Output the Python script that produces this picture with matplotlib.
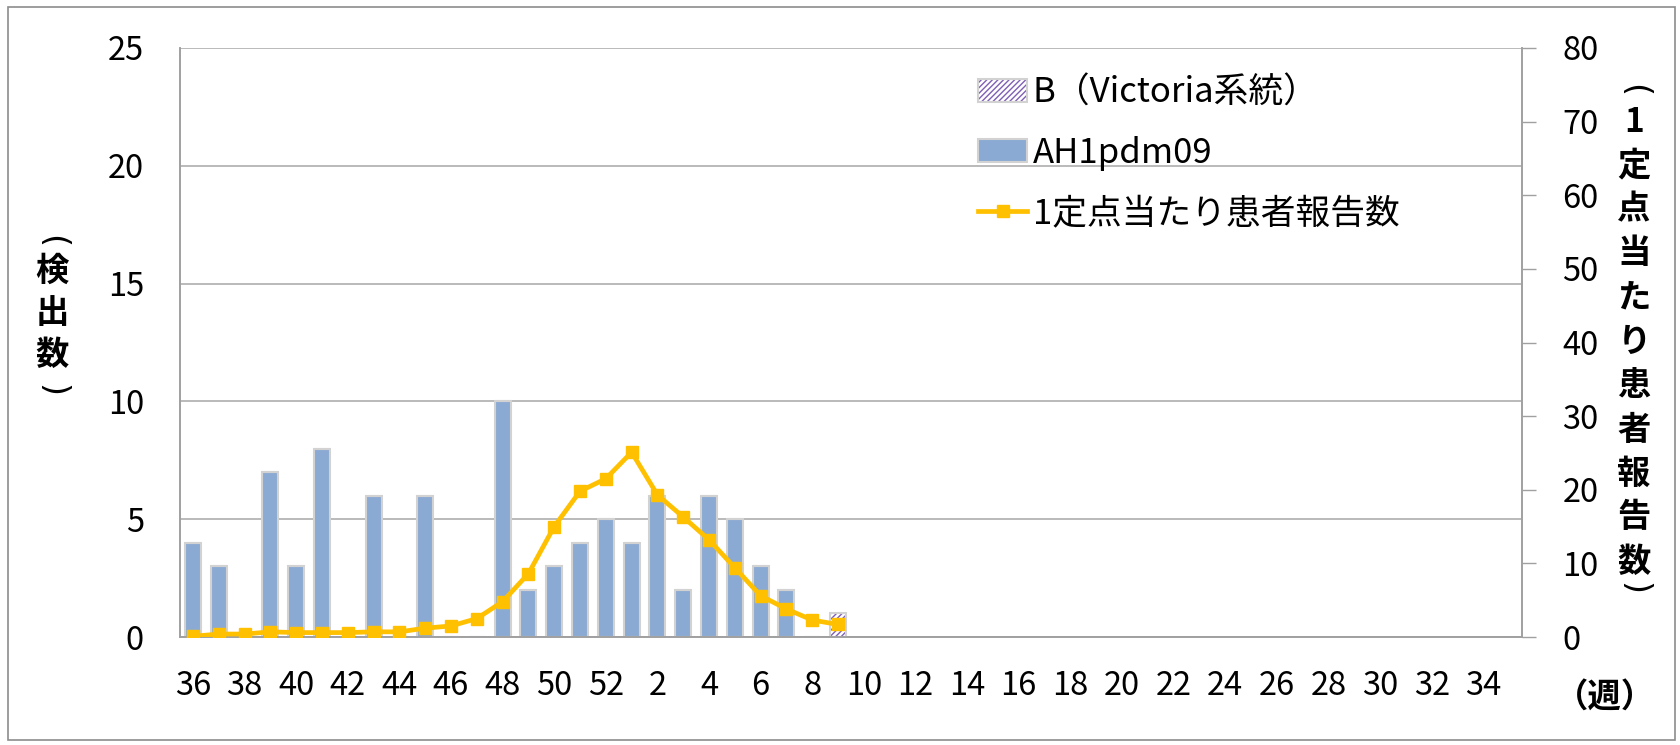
import matplotlib
matplotlib.use("Agg")
import matplotlib.pyplot as plt
from matplotlib.patches import Rectangle, Patch
from matplotlib.lines import Line2D
from matplotlib.legend_handler import HandlerTuple
import numpy as np

plt.rcParams['font.family'] = ['Noto Sans CJK JP', 'DejaVu Sans']

weeks = [36, 37, 38, 39, 40, 41, 42, 43, 44, 45, 46, 47, 48, 49, 50, 51, 52] + list(range(1, 36))
ah1pdm09 = [4, 3, 0, 7, 3, 8, 0, 6, 0, 6, 0, 0, 10, 2, 3, 4, 5, 4, 6, 2, 6, 5, 3, 2, 0, 0]
victoria = [0, 0, 0, 0, 0, 0, 0, 0, 0, 0, 0, 0, 0, 0, 0, 0, 0, 0, 0, 0, 0, 0, 0, 0, 0, 1]
per_site = [0.1, 0.4, 0.4, 0.7, 0.6, 0.6, 0.6, 0.7, 0.7, 1.2, 1.5, 2.5, 4.8, 8.6, 15.0,
            19.8, 21.5, 25.1, 19.3, 16.3, 13.2, 9.4, 5.6, 3.8, 2.3, 1.7]
tick_labels = [str(w) for w in weeks[::2]]

BLUE = '#8BAAD3'
EDGE = '#d2d2d2'
PURPLE = '#7F5FB5'
GOLD = '#FFC000'
FS = 23.5

W, H = 1681, 745
fig = plt.figure(figsize=(W / 100, H / 100), dpi=100)
fig.patches.append(Rectangle((8 / W, 1 - 740 / H), (1675 - 8) / W, (740 - 7) / H,
                             transform=fig.transFigure, fill=False, edgecolor='#8c8c8c',
                             linewidth=1.2))

left, right, top, bottom = 180, 1522, 48, 637
ax = fig.add_axes([left / W, 1 - bottom / H, (right - left) / W, (bottom - top) / H])
ax2 = ax.twinx()

n = len(weeks)
x = np.arange(len(ah1pdm09))
ax.set_axisbelow(True)
ax.bar(x, ah1pdm09, width=0.62, color=BLUE, edgecolor=EDGE, linewidth=1.5, zorder=2)
ax.bar(x, victoria, bottom=ah1pdm09, width=0.62, color='white', edgecolor=PURPLE,
       hatch='//////', linewidth=0, zorder=2)
ax.bar(x, victoria, bottom=ah1pdm09, width=0.62, fill=False, edgecolor=EDGE,
       linewidth=1.5, zorder=2)

ax2.plot(np.arange(len(per_site)), per_site, color=GOLD, linewidth=3.4, marker='s',
         markersize=8.5, zorder=3)

ax.set_xlim(-0.5, n - 0.5)
ax.set_ylim(0, 25)
ax2.set_ylim(0, 80)
ax.set_yticks(range(0, 26, 5))
ax2.set_yticks(range(0, 81, 10))
ax.set_xticks(np.arange(0, n, 2))
ax.set_xticklabels(tick_labels)

ax.grid(axis='y', color='#b4b4b4', linewidth=1.3)
ax.grid(axis='x', visible=False)
ax.spines['top'].set_visible(False)
ax2.spines['top'].set_visible(False)
for a in (ax, ax2):
    for sp in ['left', 'right', 'bottom']:
        a.spines[sp].set_color('#a0a0a0')
        a.spines[sp].set_linewidth(1.2)

ax.tick_params(axis='y', length=0, pad=26, labelsize=FS)
ax.tick_params(axis='x', length=0, pad=24, labelsize=FS)
ax2.tick_params(axis='y', length=10, width=1.0, color='#a0a0a0', pad=19, labelsize=FS)

ax.set_zorder(1)
ax2.set_zorder(2)
ax2.patch.set_visible(False)

b_handle = (Patch(facecolor='white', edgecolor=PURPLE, hatch='//////', linewidth=0),
            Patch(fill=False, edgecolor=EDGE, linewidth=1.5))
handles = [b_handle,
           Patch(facecolor=BLUE, edgecolor=EDGE, linewidth=1.5),
           Line2D([], [], color=GOLD, linewidth=3.4, marker='s', markersize=8.5)]
labels = ['B（Victoria系統）', 'AH1pdm09', '1定点当たり患者報告数']
fig.legend(handles, labels, loc='upper left', bbox_to_anchor=(978 / W, 1 - 76 / H),
           frameon=False, fontsize=25, handlelength=1.42, handleheight=0.64,
           handletextpad=0.15, labelspacing=0.72, borderpad=0, borderaxespad=0,
           handler_map={tuple: HandlerTuple(ndivide=1, pad=0)})

def vlabel(chars, xc, y_first, step, y_open, y_close):
    fig.text(xc / W, 1 - y_open / H, '(', rotation=-90, ha='center', va='center',
             fontsize=24, family='DejaVu Sans')
    for i, c in enumerate(chars):
        fig.text(xc / W, 1 - (y_first + i * step) / H, c, ha='center', va='center',
                 fontsize=24, fontweight='bold')
    fig.text(xc / W, 1 - y_close / H, ')', rotation=-90, ha='center', va='center',
             fontsize=24, family='DejaVu Sans')

vlabel(['検', '出', '数'], 52, 271, 42, 242, 390)
vlabel(['1', '定', '点', '当', 'た', 'り', '患', '者', '報', '告', '数'], 1634, 122, 44,
       90, 588)
fig.text(1605 / W, 1 - 697 / H, '（週）', ha='center', va='center', fontsize=24,
         fontweight='bold')

fig.savefig('out.png', dpi=100)
